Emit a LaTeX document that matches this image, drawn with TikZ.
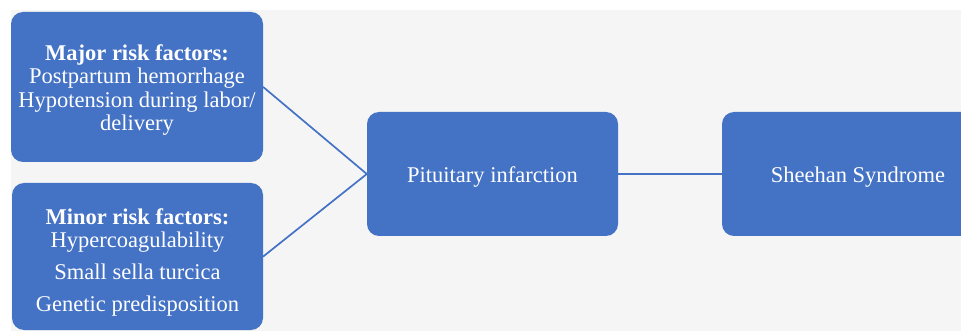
\documentclass[tikz,border=0pt]{standalone}
\usepackage{fontspec}
\setmainfont{Liberation Serif}
\definecolor{boxblue}{HTML}{4472C4}
\definecolor{backgray}{HTML}{F5F5F5}
\begin{document}
\begin{tikzpicture}[x=1pt, y=-1pt, line join=round, line cap=round,
		font=\fontsize{22.5}{23.5}\selectfont,
		factor/.style={rectangle, rounded corners=12pt, fill=boxblue, inner sep=0pt},
		factortext/.style={text=white, align=center, inner sep=0pt, yshift=-3pt},
		link/.style={boxblue, line width=1.7pt}]
		\useasboundingbox (0,0) rectangle (961,331);
		\clip (0,0) rectangle (961,331);
		\fill[backgray] (11,10) rectangle (961,331);
		\node[factor, minimum width=252pt, minimum height=150pt,
			label={[factortext]center:{\textbf{Major risk factors:}\\Postpartum hemorrhage\\Hypotension during labor/\\delivery}}] (major) at (137,87) {};
		\node[factor, minimum width=251pt, minimum height=147pt,
			label={[factortext, yshift=-3pt]center:{\textbf{Minor risk factors:}\\Hypercoagulability\\[8.5pt]Small sella turcica\\[8.5pt]Genetic predisposition}}] (minor) at (137.5,256.5) {};
		\node[factor, minimum width=251pt, minimum height=124pt,
			label={[factortext]center:Pituitary infarction}] (infarct) at (492.5,174) {};
		\node[factor, minimum width=272pt, minimum height=124pt,
			label={[factortext]center:Sheehan Syndrome}] (sheehan) at (858,174) {};
		\draw[link] (major.east) -- (infarct.west);
		\draw[link] (minor.east) -- (infarct.west);
		\draw[link] (infarct.east) -- (sheehan.west);
\end{tikzpicture}
\end{document}
